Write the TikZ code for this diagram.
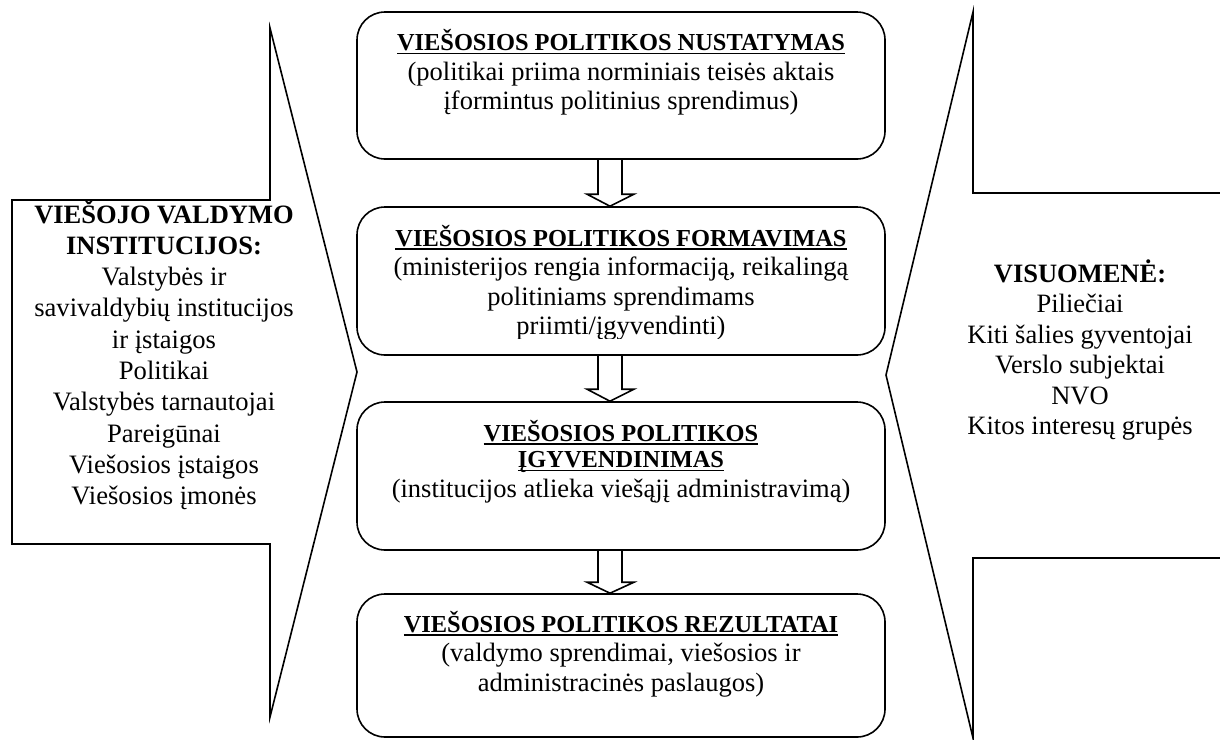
\documentclass[tikz,border=0pt]{standalone}
\usepackage{fontspec}
\setmainfont{Liberation Serif}
\usetikzlibrary{calc}
\newcommand\ulbar[1]{\setbox0=\hbox{#1}\leavevmode\rlap{\rule[-3.6pt]{\wd0}{1.8pt}}\box0}
\newcommand\ctitle{\fontsize{24.4}{26.5}\selectfont\bfseries}
\newcommand\cbody{\fontsize{26.5}{29.5}\selectfont}
\newcommand\lbody{\fontsize{26.6}{31.3}\selectfont}
\newcommand\lbold{\fontsize{26.5}{31.3}\selectfont\bfseries}
\newcommand\rbody{\fontsize{26.5}{30.5}\selectfont}
\newcommand\rbold{\fontsize{26.5}{30.5}\selectfont\bfseries}
\begin{document}
\begin{tikzpicture}[x=1pt,y=-1pt,line width=1.6pt,
  box/.style={draw,rounded corners=28pt,minimum width=528pt,inner sep=0pt},
  ctext/.style={anchor=base,inner sep=0pt},
  barrow/.style={draw,line width=1.6pt},
  bigarrow/.style={draw,line width=1.6pt}]
\clip (0,0) rectangle (1220,739);
% boxes
\node[box,minimum height=147pt] (b1) at (621,85.5) {};
\node[box,minimum height=148pt] (b2) at (621,281) {};
\node[box,minimum height=148pt] (b3) at (621,476) {};
\node[box,minimum height=143pt] (b4) at (621,665.5) {};
% box texts
\node[ctext] (t1) at ($(b1.north)+(0,39.5)$) {\parbox[t]{520pt}{\centering{\ctitle\ulbar{VIEŠOSIOS POLITIKOS NUSTATYMAS}\par}\cbody (politikai priima norminiais teisės aktais\\ įformintus politinius sprendimus)}};
\begin{scope}
\clip (b2.north west) rectangle ($(b2.south east)+(0,-17)$);
\node[ctext] (t2) at ($(b2.north)+(0,40)$) {\parbox[t]{520pt}{\centering{\ctitle\ulbar{VIEŠOSIOS POLITIKOS FORMAVIMAS}\par}\cbody (ministerijos rengia informaciją, reikalingą\\ politiniams sprendimams\\ priimti/įgyvendinti)}};
\end{scope}
\node[ctext] (t3) at ($(b3.north)+(0,40)$) {\parbox[t]{520pt}{\centering{\ctitle\ulbar{VIEŠOSIOS POLITIKOS}\\ \ulbar{ĮGYVENDINIMAS}\par}\cbody (institucijos atlieka viešąjį administravimą)}};
\node[ctext] (t4) at ($(b4.north)+(0,39)$) {\parbox[t]{520pt}{\centering{\ctitle\ulbar{VIEŠOSIOS POLITIKOS REZULTATAI}\par}\cbody (valdymo sprendimai, viešosios ir\\ administracinės paslaugos)}};
% block arrows between boxes
\draw[barrow] ($(b1.south)+(-23,0)$) -- ($(b2.north)+(-23,-12)$) -- ($(b2.north)+(-34,-12)$) -- ($(b2.north)+(-11,0)$) -- ($(b2.north)+(13,-12)$) -- ($(b2.north)+(1,-12)$) -- ($(b1.south)+(1,0)$);
\draw[barrow] ($(b2.south)+(-23,0)$) -- ($(b3.north)+(-23,-12)$) -- ($(b3.north)+(-34,-12)$) -- ($(b3.north)+(-11,0)$) -- ($(b3.north)+(13,-12)$) -- ($(b3.north)+(1,-12)$) -- ($(b2.south)+(1,0)$);
\draw[barrow] ($(b3.south)+(-23,0)$) -- ($(b4.north)+(-23,-11)$) -- ($(b4.north)+(-34,-11)$) -- ($(b4.north)+(-11,0)$) -- ($(b4.north)+(13,-11)$) -- ($(b4.north)+(1,-11)$) -- ($(b3.south)+(1,0)$);
% left big arrow
\draw[bigarrow] (12,200) -- (270,200) -- (270,28) -- (357,372) -- (270,717) -- (270,544) -- (12,544) -- cycle;
\node[ctext] (inst) at (164,223) {\parbox[t]{330pt}{\centering{\lbold VIEŠOJO VALDYMO\\ INSTITUCIJOS:\par}\lbody Valstybės ir\\ savivaldybių institucijos\\ ir įstaigos\\ Politikai\\ Valstybės tarnautojai\\ Pareigūnai\\ Viešosios įstaigos\\ Viešosios įmonės}};
% right big arrow
\draw[bigarrow] (1232,193) -- (973,193) -- (973,12) -- (886,375) -- (973,738) -- (973,558) -- (1232,558);
\node[ctext] (soc) at (1080,282) {\parbox[t]{300pt}{\centering{\rbold VISUOMENĖ:\par}\rbody Piliečiai\\ Kiti šalies gyventojai\\ Verslo subjektai\\ NVO\\ Kitos interesų grupės}};
\end{tikzpicture}
\end{document}
